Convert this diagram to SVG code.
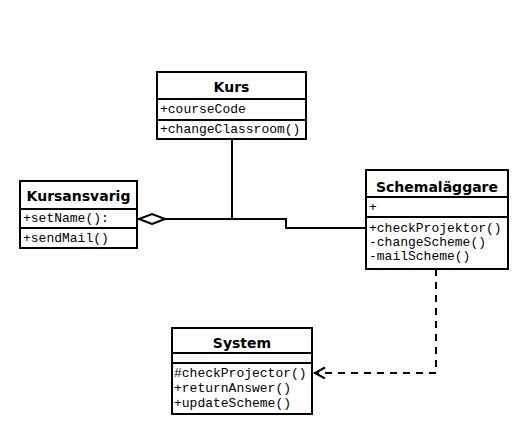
<svg xmlns="http://www.w3.org/2000/svg" width="516" height="439" viewBox="0 0 516 439">
<style>
.box{fill:#fff;stroke:#000;stroke-width:2}
.sep{stroke:#000;stroke-width:2}
.h{font-family:"DejaVu Sans",Verdana,sans-serif;font-weight:bold;font-size:14px;text-anchor:middle;fill:#000}
.m{font-family:"Liberation Mono","Courier New",monospace;font-size:13px;fill:#000}
.ln{fill:none;stroke:#000;stroke-width:2}
.dash{fill:none;stroke:#000;stroke-width:2;stroke-dasharray:7,6}
</style>
<defs>
<marker id="diamond" markerWidth="30" markerHeight="14" refX="28" refY="6" orient="auto" markerUnits="userSpaceOnUse">
<path d="M1,6 L14,1 L27,6 L14,11 Z" fill="#fff" stroke="#000" stroke-width="2"/>
</marker>
<marker id="open" markerWidth="14" markerHeight="14" refX="12" refY="6" orient="auto" markerUnits="userSpaceOnUse">
<path d="M1,0.5 L11,6 L1,11.5" fill="none" stroke="#000" stroke-width="2"/>
</marker>
</defs>
<rect width="516" height="439" fill="#fff"/>
<g id="kurs">
<rect class="box" x="157" y="72" width="149" height="67"/>
<line class="sep" x1="157" y1="99" x2="306" y2="99"/>
<line class="sep" x1="157" y1="120" x2="306" y2="120"/>
<text class="h" x="231.5" y="92">Kurs</text>
<text class="m" x="160" y="113">+courseCode</text>
<text class="m" x="160" y="133">+changeClassroom()</text>
</g>
<g id="kursansvarig">
<rect class="box" x="20" y="181" width="117" height="67"/>
<line class="sep" x1="20" y1="209" x2="137" y2="209"/>
<line class="sep" x1="20" y1="228" x2="137" y2="228"/>
<text class="h" x="78.5" y="201">Kursansvarig</text>
<text class="m" x="23" y="222">+setName():</text>
<text class="m" x="23" y="242">+sendMail()</text>
</g>
<g id="schemalaggare">
<rect class="box" x="366" y="170" width="142" height="99"/>
<line class="sep" x1="366" y1="197" x2="508" y2="197"/>
<line class="sep" x1="366" y1="217" x2="508" y2="217"/>
<text class="h" x="437" y="192">Schemaläggare</text>
<text class="m" x="369" y="211">+</text>
<text class="m" x="369" y="232">+checkProjektor()</text>
<text class="m" x="369" y="246">-changeScheme()</text>
<text class="m" x="369" y="260">-mailScheme()</text>
</g>
<g id="system">
<rect class="box" x="172" y="328" width="140" height="86"/>
<line class="sep" x1="172" y1="353" x2="312" y2="353"/>
<line class="sep" x1="172" y1="363" x2="312" y2="363"/>
<text class="h" x="242" y="348">System</text>
<text class="m" x="174" y="377">#checkProjector()</text>
<text class="m" x="174" y="392">+returnAnswer()</text>
<text class="m" x="174" y="407">+updateScheme()</text>
</g>
<g id="connectors">
<path class="ln" d="M232,139 L232,219"/>
<path class="ln" d="M366,228 L286,228 L286,219 L138,219" marker-end="url(#diamond)"/>
<path class="dash" d="M436,269 L436,373 L314,373" marker-end="url(#open)"/>
</g>
</svg>
